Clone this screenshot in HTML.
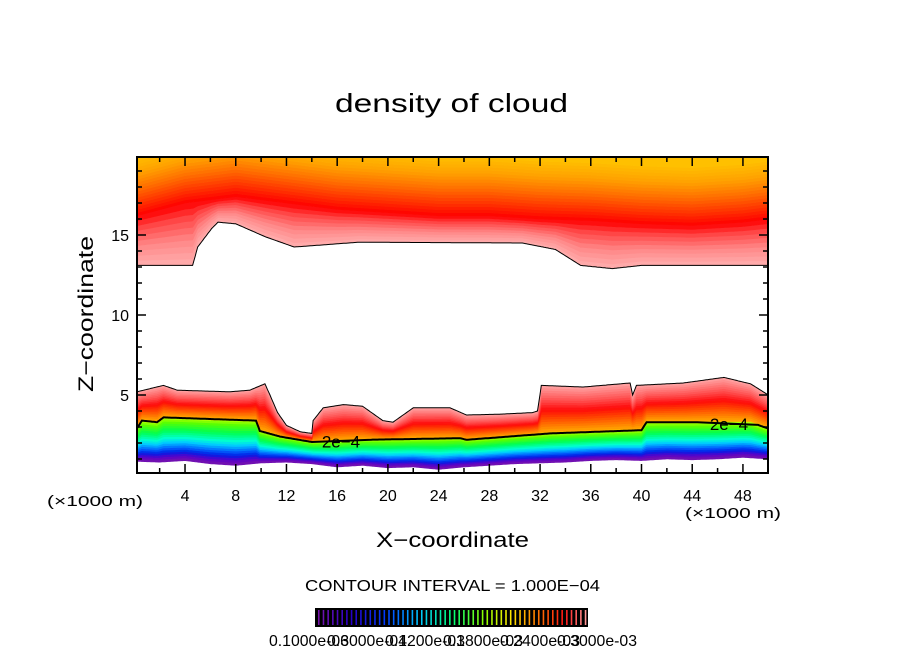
<!DOCTYPE html>
<html><head><meta charset="utf-8"><style>
html,body{margin:0;padding:0;background:#fff;}
svg{display:block;font-family:"Liberation Sans",sans-serif;}
</style></head><body>
<svg id="chart" width="904" height="654" viewBox="0 0 904 654" xmlns="http://www.w3.org/2000/svg">
<rect width="904" height="654" fill="#fff"/>
<text x="335" y="112" font-size="26" textLength="233" lengthAdjust="spacingAndGlyphs">density of cloud</text>
<g id="plot"></g>
<g id="axes"></g>
<text transform="translate(93,392) rotate(-90)" font-size="21" textLength="156" lengthAdjust="spacingAndGlyphs">Z−coordinate</text>
<text x="376" y="547" font-size="21" textLength="153" lengthAdjust="spacingAndGlyphs">X−coordinate</text>
<text x="47" y="506" font-size="15" textLength="96" lengthAdjust="spacingAndGlyphs">(×1000 m)</text>
<text x="685" y="518" font-size="15" textLength="96" lengthAdjust="spacingAndGlyphs">(×1000 m)</text>
<text x="305" y="591" font-size="16" textLength="295" lengthAdjust="spacingAndGlyphs">CONTOUR INTERVAL = 1.000E−04</text>
<g id="cbar"></g>
</svg>
<script>
// ---- data (x in km/1000, z in km/1000) ----
const upperBaseX = [0.2,4.6,5.0,6.1,6.6,8.0,10.3,12.6,13.5,17.7,30.6,33.2,35.2,37.7,40.0,50];
const upperBaseZ = [13.1,13.1,14.25,15.4,15.8,15.7,14.9,14.25,14.3,14.55,14.5,14.1,13.1,12.9,13.1,13.1];
const upperRedX = [0.2,4,8,12,16,20,24,28,32,36,40,44,48,50];
const upperRedZ = [16.2,17.0,17.4,17.0,16.6,16.4,16.2,16.2,16.0,15.9,15.7,15.6,15.8,16.0];
const lowerTopX = [0.2,2.3,3.4,7.5,9.1,10.3,10.7,11.3,12.0,13.1,14.0,14.1,14.9,16.5,18.0,19.6,20.4,22.0,24.9,26.2,28.8,31.4,31.8,32.1,35.4,39.1,39.3,39.6,43.3,46.5,48.6,50];
const lowerTopZ = [5.2,5.6,5.3,5.2,5.3,5.7,5.0,3.9,3.1,2.7,2.6,3.4,4.2,4.4,4.3,3.4,3.3,4.2,4.2,3.75,3.8,3.9,4.0,5.6,5.5,5.75,5.0,5.6,5.75,6.1,5.7,5.0];
const contourX = [0.2,0.6,1.8,2.3,9.6,9.9,11.5,14.1,18,22,25.7,26.2,32.8,40,40.4,48.6,50];
const contourZ = [2.9,3.4,3.3,3.6,3.4,2.75,2.4,2.05,2.2,2.25,2.3,2.2,2.6,2.8,3.3,3.3,2.9];
const bottomX = [0.2,2,4,6,8,10,12,14,16,18,20,22,24,26,28,30,32,34,36,38,40,42,44,46,48,50];
const bottomZ = [0.85,0.8,0.9,0.7,0.6,0.75,0.8,0.7,0.5,0.6,0.45,0.5,0.35,0.5,0.6,0.7,0.75,0.8,0.9,0.95,0.9,1.0,0.95,1.0,1.1,1.0];
const xTicks = [4,8,12,16,20,24,28,32,36,40,44,48];
const zTicks = [5,10,15];
const cbarLabels = ["0.1000e-03","0.6000e-04","0.1200e-03","0.1800e-03","0.2400e-03","0.3000e-03"];

const X = x => 134.3 + 12.68*x;
const Z = z => 475 - 16*z;
const NS = "http://www.w3.org/2000/svg";
const plot = document.getElementById('plot');
const axes = document.getElementById('axes');
function mk(tag, attrs, parent){const e=document.createElementNS(NS,tag);for(const k in attrs)e.setAttribute(k,attrs[k]);parent.appendChild(e);return e;}
function interp(xs, zs, x){ if(x<=xs[0])return zs[0]; for(let i=1;i<xs.length;i++){ if(x<=xs[i]){const t=(x-xs[i-1])/(xs[i]-xs[i-1]);return zs[i-1]+t*(zs[i]-zs[i-1]);}} return zs[zs.length-1]; }
const grid=[]; for(let x=0.2;x<=50.001;x+=0.1) grid.push(x);
function lerpC(a,b,t){return a.map((v,i)=>Math.round(v+(b[i]-v)*t));}
function ramp(stops, t){ for(let i=1;i<stops.length;i++){ if(t<=stops[i][0]){const u=(t-stops[i-1][0])/(stops[i][0]-stops[i-1][0]);const c=lerpC(stops[i-1][1],stops[i][1],u);return `rgb(${c[0]},${c[1]},${c[2]})`;}} const c=stops[stops.length-1][1]; return `rgb(${c[0]},${c[1]},${c[2]})`; }
function band(fLo, fHi, color, name){
  let pts=grid.map(x=>X(x).toFixed(1)+','+Z(fHi(x)).toFixed(1));
  let back=grid.slice().reverse().map(x=>X(x).toFixed(1)+','+Z(fLo(x)).toFixed(1));
  const p=mk('polygon',{points:pts.concat(back).join(' '),fill:color,stroke:color,'stroke-width':0.6},plot);
  
  
}
const clip=mk('clipPath',{id:'pc'},mk('defs',{},document.getElementById('chart')));
mk('rect',{x:137,y:157,width:631,height:316},clip);
plot.setAttribute('clip-path','url(#pc)');

// upper cloud
const upStops=[[0,[255,175,175]],[0.4,[255,135,135]],[0.75,[255,70,70]],[1,[255,0,0]],[1.4,[255,50,0]],[1.9,[255,110,0]],[2.4,[255,160,0]],[3,[255,195,0]]];
const NU=30;
for(let i=0;i<NU;i++){
  const a=i/NU*3, b=(i+1)/NU*3;
  const lev=f=>x=>{const base=interp(upperBaseX,upperBaseZ,x),red=interp(upperRedX,upperRedZ,x);return f<=1?base+f*(red-base):Math.min(21,red+(f-1)*1.9);};
  band(lev(a), i==NU-1?(x=>21):lev(b), ramp(upStops,(a+b)/2), 'upper-cloud-band');
}
// lower cloud: above contour
const loStops=[[0,[255,180,0]],[0.15,[255,130,0]],[0.35,[255,60,0]],[0.5,[255,10,10]],[0.7,[255,80,80]],[0.88,[255,130,130]],[1,[255,165,165]]];
const NL=20;
for(let i=0;i<NL;i++){
  const a=i/NL,b=(i+1)/NL;
  const lev=f=>x=>{const c=interp(contourX,contourZ,x),t=Math.max(c,interp(lowerTopX,lowerTopZ,x));return c+f*(t-c);};
  band(lev(a),lev(b),ramp(loStops,(a+b)/2),'lower-cloud-band');
}
// below contour
const bStops=[[0,[200,255,0]],[0.12,[90,255,0]],[0.3,[0,255,80]],[0.48,[0,255,210]],[0.58,[0,200,255]],[0.7,[0,100,255]],[0.8,[0,30,230]],[0.9,[90,0,200]],[1,[120,20,170]]];
for(let i=0;i<NL;i++){
  const a=i/NL,b=(i+1)/NL;
  const lev=f=>x=>{const c=interp(contourX,contourZ,x),bo=interp(bottomX,bottomZ,x);return c-f*(c-bo);};
  band(lev(b),lev(a),ramp(bStops,(a+b)/2),'lower-cloud-band');
}
// outlines
function line(xs,zs,name,w,filter){
  const pts=grid.filter(filter||(()=>true)).map(x=>X(x).toFixed(1)+','+Z(interp(xs,zs,x)).toFixed(1)).join(' ');
  const l=mk('polyline',{points:pts,fill:'none',stroke:'#000','stroke-width':w},plot);
  
  
}
line(upperBaseX,upperBaseZ,'upper-cloud-edge',1);
line(lowerTopX,lowerTopZ,'lower-cloud-edge',1);
line(contourX,contourZ,'contour-2e-4',2,x=>x<14.0||(x>18.6&&x<44.5)||x>49.2);
function lab(x,z,name){const t=mk('text',{x:X(x),y:Z(z)+6,'font-size':17,'text-anchor':'middle'},plot);t.textContent='2e−4';}
lab(16.3,2.1,'contour-label');
lab(46.9,3.2,'contour-label-right');

// axes frame & ticks
mk('rect',{x:137,y:157,width:631,height:316,fill:'none',stroke:'#000','stroke-width':2},axes);
for(let x=2;x<50;x+=2){const L=(x%4===0)?9:5;
  mk('line',{x1:X(x),x2:X(x),y1:473,y2:473-L,stroke:'#000','stroke-width':1.5},axes);
  mk('line',{x1:X(x),x2:X(x),y1:157,y2:157+L,stroke:'#000','stroke-width':1.5},axes);}
for(let z=1;z<20;z++){const L=(z%5===0)?9:5;
  mk('line',{x1:137,x2:137+L,y1:Z(z),y2:Z(z),stroke:'#000','stroke-width':1.5},axes);
  mk('line',{x1:768,x2:768-L,y1:Z(z),y2:Z(z),stroke:'#000','stroke-width':1.5},axes);}
xTicks.forEach(v=>{const t=mk('text',{x:X(v),y:501,'font-size':16,'text-anchor':'middle'},axes);t.textContent=v;
  
  });
zTicks.forEach(v=>{const t=mk('text',{x:129,y:Z(v)+6,'font-size':16,'text-anchor':'end'},axes);t.textContent=v;
  
  });

// colorbar
const cb=document.getElementById('cbar');
mk('rect',{x:315,y:608,width:273,height:19,fill:'#000'},cb);
const cbStops=[[0,[120,20,170]],[0.12,[40,0,200]],[0.25,[0,60,255]],[0.38,[0,200,255]],[0.5,[0,255,120]],[0.62,[140,255,0]],[0.72,[255,230,0]],[0.82,[255,120,0]],[0.92,[255,20,20]],[1,[255,150,150]]];
for(let i=0;i<58;i++){const x=318+i*4.68;
  const r=mk('rect',{x:x,y:610,width:1.6,height:15,fill:ramp(cbStops,i/57)},cb);
  
  }
const cbX=[269,327,385,443,500,557];
cbarLabels.forEach((s,i)=>{const t=mk('text',{x:cbX[i],y:646,'font-size':16,textLength:80,lengthAdjust:'spacingAndGlyphs'},cb);t.textContent=s;
  
  });
</script>
</body></html>
